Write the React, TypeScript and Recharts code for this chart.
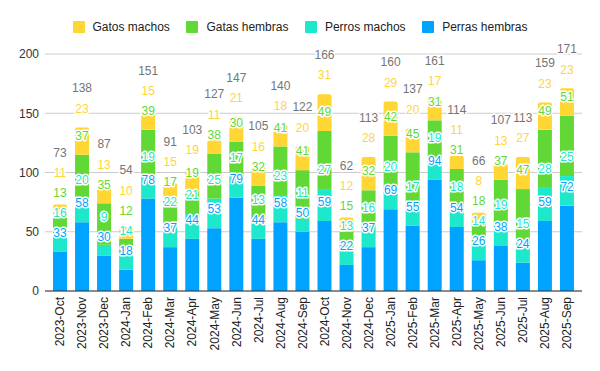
import React from "react";
import { BarChart, Bar, XAxis, YAxis, CartesianGrid, Legend, LabelList } from "recharts";

const months = [
  "2023-Oct", "2023-Nov", "2023-Dec", "2024-Jan", "2024-Feb", "2024-Mar",
  "2024-Apr", "2024-May", "2024-Jun", "2024-Jul", "2024-Aug", "2024-Sep",
  "2024-Oct", "2024-Nov", "2024-Dec", "2025-Jan", "2025-Feb", "2025-Mar",
  "2025-Apr", "2025-May", "2025-Jun", "2025-Jul", "2025-Aug", "2025-Sep",
];
const perrasHembras = [33, 58, 30, 18, 78, 37, 44, 53, 79, 44, 58, 50, 59, 22, 37, 69, 55, 94, 54, 26, 38, 24, 59, 72];
const perrosMachos = [16, 20, 9, 14, 19, 22, 21, 25, 17, 13, 23, 11, 27, 13, 16, 20, 17, 19, 18, 14, 19, 15, 28, 25];
const gatasHembras = [13, 37, 35, 12, 39, 17, 19, 38, 30, 32, 41, 41, 49, 15, 32, 42, 45, 31, 31, 18, 37, 47, 49, 51];
const gatosMachos = [11, 23, 13, 10, 15, 15, 19, 11, 21, 16, 18, 20, 31, 12, 28, 29, 20, 17, 11, 8, 13, 27, 23, 23];
const yTicks = [0, 50, 100, 150, 200];

const series = [
  { key: "perrasHembras", name: "Perras hembras", color: "#00A3FF" },
  { key: "perrosMachos", name: "Perros machos", color: "#1DE8CC" },
  { key: "gatasHembras", name: "Gatas hembras", color: "#62D836" },
  { key: "gatosMachos", name: "Gatos machos", color: "#FFD634" },
];

const data = months.map((m, i) => ({
  month: m,
  perrasHembras: perrasHembras[i],
  perrosMachos: perrosMachos[i],
  gatasHembras: gatasHembras[i],
  gatosMachos: gatosMachos[i],
}));

const FONT = "'Liberation Sans', Arial, sans-serif";

const makeLabel = (si: number) => (props: any) => {
  const vb = props.viewBox && props.viewBox.height !== undefined ? props.viewBox : props;
  const x = Number(vb.x);
  const y = Number(vb.y);
  const width = Number(vb.width);
  const height = Number(vb.height);
  const index = props.index;
  const row: any = data[index];
  if (!row) return null;
  const v = row[series[si].key];
  if (!v) return null;
  const k = height / v;
  const cums: number[] = [];
  let c = 0;
  for (const s of series) {
    c += row[s.key];
    cums.push(c);
  }
  const zeroY = y + cums[si] * k;
  let prev = Infinity;
  let pos = 0;
  for (let j = 0; j <= si; j++) {
    pos = Math.min(zeroY - cums[j] * k - 19, prev - 20);
    prev = pos;
  }
  const cx = x + width / 2;
  const common = {
    x: cx,
    textAnchor: "middle" as const,
    dy: "0.35em",
    fontSize: 12,
    fontFamily: FONT,
    stroke: "#fff",
    strokeWidth: 3,
    strokeLinejoin: "round" as const,
    paintOrder: "stroke",
  };
  const items = [
    <text key="v" {...common} y={pos} fill={series[si].color}>{v}</text>,
  ];
  if (si === series.length - 1) {
    const total = cums[series.length - 1];
    const tpos = Math.min(y - 19, pos - 20.5);
    items.push(<text key="t" {...common} y={tpos} fill="#757575">{total}</text>);
  }
  return <g>{items}</g>;
};

const XTick = (props: any) => {
  const { x, y, payload } = props;
  return (
    <g transform={`translate(${x},${y})`}>
      <text transform="rotate(-90)" textAnchor="end" dy="0.35em" fontSize={12} fontFamily={FONT} fill="#222">
        {payload.value}
      </text>
    </g>
  );
};

const LegendContent = () => {
  const order = [...series].reverse();
  return (
    <div style={{ height: 20, width: 600, display: "flex", justifyContent: "center", alignItems: "center", fontFamily: FONT, fontSize: 12, color: "#222" }}>
      {order.map((s, i) => (
        <div key={s.key} style={{ display: "flex", alignItems: "center", marginLeft: i === 0 ? 0 : 16.5 }}>
          <span style={{ width: 12, height: 12, background: s.color, display: "inline-block", marginRight: 8, borderRadius: 1 }} />
          <span>{s.name}</span>
        </div>
      ))}
    </div>
  );
};

export default function App() {
  return (
    <div style={{ position: "absolute", left: 0, top: 0, width: 600, height: 371, background: "#fff" }}>
      <BarChart width={600} height={371} data={data} margin={{ top: 34, right: 18, bottom: 0, left: 0 }} barSize={14}>
        <CartesianGrid vertical={false} stroke="#CCCCCC" />
        <Legend verticalAlign="top" align="center" content={<LegendContent />} wrapperStyle={{ top: 17, left: 0, width: 600, height: 20 }} />
        <XAxis
          dataKey="month"
          interval={0}
          height={80}
          tickLine={false}
          tickSize={6}
          tickMargin={0}
          axisLine={{ stroke: "#333" }}
          padding={{ left: 4, right: 4 }}
          tick={<XTick />}
        />
        <YAxis
          width={45}
          domain={[0, 200]}
          ticks={yTicks}
          axisLine={false}
          tickLine={false}
          tickSize={6}
          tickMargin={0}
          tick={{ fontSize: 12, fontFamily: FONT, fill: "#333" }}
        />
        {series.map((s, si) => (
          <Bar
            key={s.key}
            dataKey={s.key}
            name={s.name}
            stackId="a"
            fill={s.color}
            isAnimationActive={false}
            radius={si === series.length - 1 ? [2, 2, 0, 0] : 0}
          >
            <LabelList dataKey={s.key} content={makeLabel(si)} />
          </Bar>
        ))}
      </BarChart>
    </div>
  );
}
